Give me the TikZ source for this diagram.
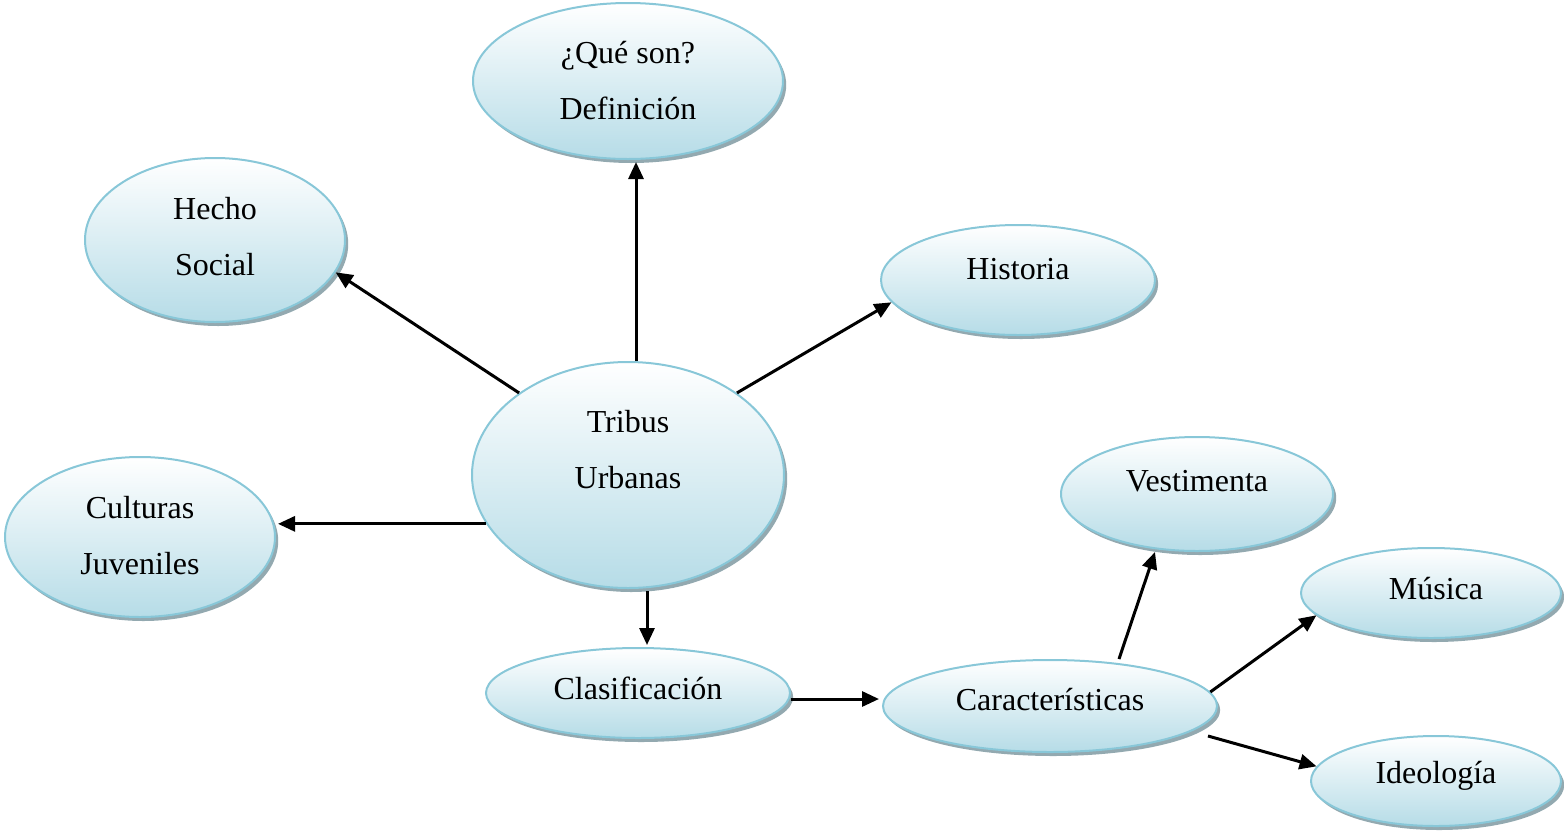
\documentclass[tikz,border=0pt]{standalone}
\usepackage{fontspec}
\setmainfont{Liberation Serif}
\usetikzlibrary{arrows.meta,shadows,shapes.geometric}
\definecolor{bubbleline}{HTML}{88C7D8}
\definecolor{bubblebottom}{HTML}{B6DCE7}
\definecolor{bubbleshadow}{HTML}{93A9B0}
\tikzset{
  bubble/.style={ellipse,draw=bubbleline,line width=1pt,top color=white,bottom color=bubblebottom,
    inner sep=0pt,drop shadow={shadow xshift=1.6pt,shadow yshift=-2pt,fill=bubbleshadow,opacity=1}},
  txt/.style={align=center,inner sep=0pt,font=\fontsize{16}{28}\selectfont},
}
\begin{document}
\begin{tikzpicture}[x=0.5pt,y=-0.5pt,>={Triangle[length=8.5pt,width=7.5pt]},line width=1.5pt]
 \useasboundingbox (0,0) rectangle (1564,831);


 \node (node_definicion) at (628,81) [bubble,minimum width=155pt,minimum height=78pt,label={[txt]center:{¿Qué son?\\Definición}}] {};
 \node (node_hecho) at (215,240) [bubble,minimum width=130pt,minimum height=82pt,label={[txt,yshift=1.5pt]center:{Hecho\\Social}}] {};
 \node (node_historia) at (1018,280) [bubble,minimum width=137pt,minimum height=55pt,label={[txt,yshift=5.5pt]center:Historia}] {};
 \node (node_tribus) at (628,475) [bubble,minimum width=156pt,minimum height=113pt,label={[txt,yshift=12.5pt]center:{Tribus\\Urbanas}}] {};
 \node (node_culturas) at (140,537) [bubble,minimum width=135pt,minimum height=80pt,label={[txt,yshift=0.5pt]center:{Culturas\\Juveniles}}] {};
 \node (node_vestimenta) at (1197,494) [bubble,minimum width=136pt,minimum height=57pt,label={[txt,yshift=6.5pt]center:Vestimenta}] {};
 \node (node_musica) at (1431,593) [bubble,minimum width=130pt,minimum height=45pt,label={[txt,xshift=2.5pt,yshift=2pt]center:Música}] {};
 \node (node_clasificacion) at (638,693) [bubble,minimum width=152pt,minimum height=45pt,label={[txt,yshift=2.5pt]center:Clasificación}] {};
 \node (node_caracteristicas) at (1050,706) [bubble,minimum width=167pt,minimum height=46pt,label={[txt,yshift=3pt]center:Características}] {};
 \node (node_ideologia) at (1436,781) [bubble,minimum width=125pt,minimum height=45pt,label={[txt,yshift=2.5pt]center:Ideología}] {};

  \draw [black,->] ([xshift=4pt]node_tribus.north) -- ([xshift=4pt,yshift=-1pt]node_definicion.south);
  \draw [black,->] (node_tribus.143) -- (node_hecho.-15);
  \draw [black,->] (node_tribus.37) -- (node_historia.190);
  \draw [black,->] (node_tribus.199) -- ([xshift=1pt]node_tribus.199 -| node_culturas.east);
  \draw [black,->] ([xshift=9.5pt,yshift=-1pt]node_tribus.south) -- ([xshift=9.5pt,yshift=1pt]node_tribus.south |- node_clasificacion.north);
  \draw [black,->] ([yshift=-3pt]node_clasificacion.east) -- ([xshift=-1.5pt,yshift=-3pt]node_clasificacion.east -| node_caracteristicas.west);
  \draw [black,->] ([xshift=34.5pt]node_caracteristicas.north) -- ([xshift=-21pt]node_vestimenta.south);
  \draw [black,->] (node_caracteristicas.5) -- (node_musica.191);
  \draw [black,->] ([shift={(-5pt,-15pt)}]node_caracteristicas.east) -- (node_ideologia.173);

\end{tikzpicture}
\end{document}
